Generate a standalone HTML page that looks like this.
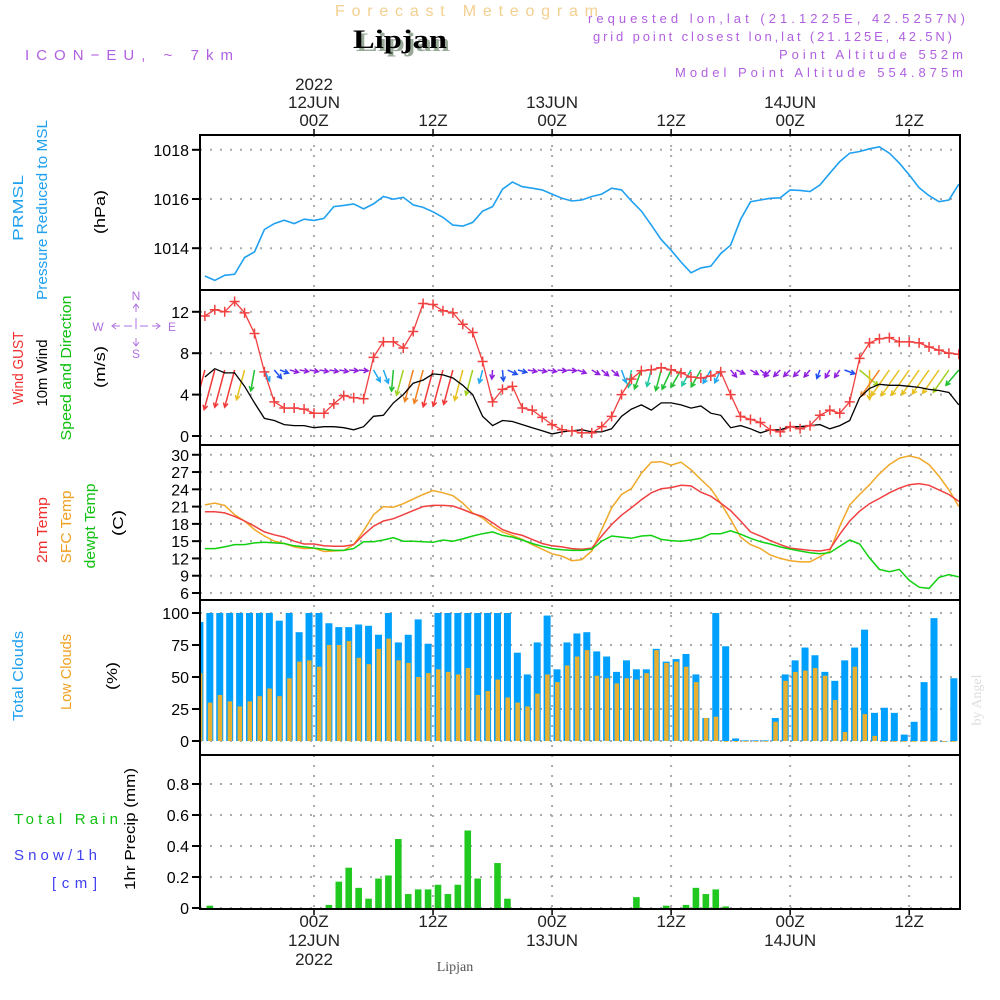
<!DOCTYPE html>
<html><head><meta charset="utf-8"><style>
body{margin:0;background:#fff}
svg{display:block}
text{font-family:"Liberation Sans",sans-serif}
text.serif{font-family:"Liberation Serif",serif}
</style></head><body>
<svg id="c" width="1000" height="1000" viewBox="0 0 1000 1000">
<g>
<text x="335" y="16" font-size="16" fill="#f3cf8f" textLength="263">Forecast Meteogram</text>
<text class="serif" x="356" y="51" font-size="26" font-weight="bold" fill="#9a9" textLength="94" lengthAdjust="spacingAndGlyphs">Lipjan</text>
<text class="serif" x="353" y="48" font-size="26" font-weight="bold" fill="#000" textLength="94" lengthAdjust="spacingAndGlyphs">Lipjan</text>
<text x="25" y="60" font-size="15" fill="#b060e0" textLength="208">ICON−EU, ~ 7km</text>
<text x="588" y="23" font-size="13" fill="#b060e0" textLength="377">requested lon,lat (21.1225E, 42.5257N)</text>
<text x="593" y="41" font-size="13" fill="#b060e0" textLength="359">grid point closest lon,lat (21.125E, 42.5N)</text>
<text x="779" y="59" font-size="13" fill="#b060e0" textLength="184">Point Altitude 552m</text>
<text x="675" y="77" font-size="13" fill="#b060e0" textLength="288">Model Point Altitude 554.875m</text>
</g>
<g font-size="15">
<text transform="translate(23,208) rotate(-90)" text-anchor="middle" fill="#1fa0f0" textLength="66" lengthAdjust="spacingAndGlyphs">PRMSL</text>
<text transform="translate(47,210) rotate(-90)" text-anchor="middle" fill="#1fa0f0" textLength="180" lengthAdjust="spacingAndGlyphs">Pressure Reduced to MSL</text>
<text transform="translate(105,212) rotate(-90)" text-anchor="middle" fill="#000" textLength="44" lengthAdjust="spacingAndGlyphs">(hPa)</text>
<text transform="translate(23,368) rotate(-90)" text-anchor="middle" fill="#f03030" textLength="73" lengthAdjust="spacingAndGlyphs">Wind GUST</text>
<text transform="translate(47,373) rotate(-90)" text-anchor="middle" fill="#000" textLength="67" lengthAdjust="spacingAndGlyphs">10m Wind</text>
<text transform="translate(71,368) rotate(-90)" text-anchor="middle" fill="#10c010" textLength="145" lengthAdjust="spacingAndGlyphs">Speed and Direction</text>
<text transform="translate(105,367) rotate(-90)" text-anchor="middle" fill="#000" textLength="42" lengthAdjust="spacingAndGlyphs">(m/s)</text>
<text transform="translate(47,530) rotate(-90)" text-anchor="middle" fill="#f03030" textLength="66" lengthAdjust="spacingAndGlyphs">2m Temp</text>
<text transform="translate(71,527) rotate(-90)" text-anchor="middle" fill="#f0a020" textLength="73" lengthAdjust="spacingAndGlyphs">SFC Temp</text>
<text transform="translate(95,526) rotate(-90)" text-anchor="middle" fill="#10c010" textLength="85" lengthAdjust="spacingAndGlyphs">dewpt Temp</text>
<text transform="translate(123,523) rotate(-90)" text-anchor="middle" fill="#000" textLength="26" lengthAdjust="spacingAndGlyphs">(C)</text>
<text transform="translate(23,676) rotate(-90)" text-anchor="middle" fill="#1fa0f0" textLength="90" lengthAdjust="spacingAndGlyphs">Total Clouds</text>
<text transform="translate(71,672) rotate(-90)" text-anchor="middle" fill="#f0a020" textLength="76" lengthAdjust="spacingAndGlyphs">Low Clouds</text>
<text transform="translate(117,676) rotate(-90)" text-anchor="middle" fill="#000" textLength="28" lengthAdjust="spacingAndGlyphs">(%)</text>
<text x="14" y="824" fill="#10c010" textLength="104">Total  Rain</text>
<text x="14" y="860" fill="#4040f0" textLength="83">Snow/1h</text>
<text x="52" y="888" fill="#4040f0" textLength="45">[cm]</text>
<text transform="translate(135,829) rotate(-90)" text-anchor="middle" fill="#000" textLength="122" lengthAdjust="spacingAndGlyphs">1hr Precip (mm)</text>
<g>
<g fill="#b070e0" font-size="12" text-anchor="middle">
<text x="136" y="300">N</text><text x="136" y="358">S</text>
<text x="98" y="331">W</text><text x="172" y="331">E</text>
</g>
<path d="M136,304v8M133,308l3,-4l3,4M136,318v8M136,338v8M133,342l3,4l3,-4M112,326h8M116,323l-4,3l4,3M124,326h8M140,326h8M152,326h8M156,323l4,3l-4,3M136,323v6" fill="none" stroke="#b070e0" stroke-width="1"/>
</g>
</g>
<text class="serif" transform="translate(981,700) rotate(-90)" text-anchor="middle" font-size="14" fill="#ddd">by Angel</text>
<text class="serif" x="455" y="971" text-anchor="middle" font-size="14" fill="#555">Lipjan</text>
<g id="grid"></g>
<g id="marks"></g>
<g id="axes"></g>
</svg>
<script>
// ---- data (hourly) ----
const barStartHour = -11.5;   // first bar hour rel. 00Z 12JUN
const lineStartHour = -11;
const pressure = [1012.87,1012.69,1012.9,1012.94,1013.62,1013.85,1014.76,1015.0,1015.14,1015.0,1015.18,1015.13,1015.21,1015.69,1015.74,1015.8,1015.6,1015.8,1016.1,1015.99,1016.07,1015.76,1015.66,1015.48,1015.25,1014.94,1014.9,1015.05,1015.51,1015.69,1016.4,1016.69,1016.5,1016.44,1016.37,1016.2,1016.03,1015.92,1015.96,
1016.1,1016.2,1016.44,1016.37,1015.92,1015.51,1014.94,1014.35,1013.92,1013.44,1013.0,1013.2,1013.27,1013.78,1014.12,1015.17,1015.89,1015.96,1016.03,1016.05,1016.37,1016.35,1016.3,1016.57,1017.05,1017.52,1017.86,1017.93,1018.04,1018.12,1017.86,1017.46,1016.98,1016.46,1016.14,1015.89,1015.96,1016.6];
const windGust = [11.6,12.2,12.0,13.0,11.9,9.9,6.2,3.3,2.7,2.7,2.6,2.2,2.2,3.1,3.9,3.7,3.6,7.6,9.1,9.1,8.5,10.1,12.8,12.7,12.1,11.9,10.8,10.0,7.2,3.3,4.5,4.8,2.7,2.5,1.8,1.1,0.6,0.5,0.3,
0.3,0.9,1.9,4.0,5.5,6.3,6.4,6.6,6.4,6.1,5.7,5.6,5.8,6.2,4.0,1.9,1.6,1.3,0.6,0.4,0.9,0.7,1.0,2.0,2.5,2.2,3.3,7.5,9.0,9.4,9.5,9.1,9.1,9.0,8.6,8.3,8.0,7.9];
const windSpeed = [5.7,6.5,6.1,6.1,4.8,3.2,1.7,1.5,1.1,1.0,1.0,0.8,0.9,0.9,0.8,0.6,0.9,1.9,2.0,3.2,4.0,5.1,5.4,6.0,5.9,5.6,4.9,4.0,1.9,1.0,1.5,1.4,1.1,0.8,0.5,0.2,0.4,0.5,0.6,
0.4,0.4,0.7,1.9,2.6,3.0,2.5,3.2,3.2,3.0,2.7,2.9,2.2,2.0,0.8,1.0,0.7,0.3,0.6,0.6,0.9,0.9,1.0,1.1,0.7,1.0,1.5,3.7,4.6,5.0,4.9,4.9,4.8,4.7,4.5,4.4,4.2,3.0];
const windDir = [15,15,15,15,15,10,335,320,290,285,280,280,280,280,280,275,275,330,340,5,15,15,15,15,15,15,15,15,15,5,355,295,285,280,280,280,275,275,290,
300,310,310,340,10,20,15,15,25,30,30,30,30,25,320,295,300,310,40,45,45,45,40,20,30,35,290,310,0,35,35,35,35,35,35,35,35,40];
const temp2m = [20.1,20.1,19.9,19.3,18.5,17.6,16.6,16.1,15.7,15.0,14.5,14.5,14.2,14.1,14.1,14.4,16.1,17.6,18.5,18.9,19.6,20.3,21.0,21.2,21.2,21.1,20.5,19.8,19.3,18.2,17.0,16.4,16.0,15.3,14.6,14.2,14.0,13.7,13.6,
13.8,15.9,17.9,19.5,20.8,22.2,23.4,24.1,24.3,24.7,24.6,23.5,22.8,21.6,20.3,18.5,16.6,15.9,15.1,14.4,13.8,13.6,13.4,13.3,13.6,16.2,18.5,20.2,21.5,22.4,23.4,24.2,24.8,25.0,24.7,23.9,23.1,21.9];
const tempSfc = [21.3,21.6,21.2,19.6,18.5,17.0,15.9,15.0,14.6,14.0,13.7,13.8,13.2,13.3,13.4,14.4,16.8,19.6,21.0,20.9,21.5,22.3,23.1,23.8,23.4,22.9,21.6,19.9,19.0,17.6,16.6,16.0,15.3,14.4,13.6,12.8,12.4,11.6,11.8,
13.3,17.0,20.8,23.1,24.1,26.8,28.7,28.8,28.2,28.7,27.4,25.7,24.1,21.6,18.8,15.7,14.4,13.7,12.6,12.0,11.6,11.4,11.4,12.3,13.3,17.6,21.3,23.1,24.8,26.7,28.3,29.4,29.8,29.4,28.3,26.3,23.9,21.0];
const dewpt = [13.7,13.7,14.0,14.4,14.4,14.7,14.8,14.7,14.6,14.2,14.0,13.8,13.6,13.4,13.4,13.7,14.9,14.9,15.2,15.6,15.0,15.0,14.9,14.8,15.2,15.0,15.4,15.9,16.3,16.6,16.0,15.7,15.2,14.6,14.1,13.7,13.5,13.4,13.4,
13.6,15.0,15.9,15.7,15.5,15.9,16.0,15.3,15.1,15.0,15.2,15.5,16.3,16.3,16.8,16.2,15.5,14.9,14.5,14.0,13.6,13.3,13.0,12.8,13.0,14.1,15.2,14.5,12.1,10.1,9.7,10.1,8.2,7.0,6.8,8.7,9.2,8.8];
const totalClouds = [93,100,100,100,100,100,100,100,94,100,85,100,100,92,89,89,91,90,83,100,77,83,95,76,100,100,100,100,100,100,100,100,69,52,77,98,56,77,84,
85,70,66,54,63,56,56,72,62,64,68,52,18,100,74,2,0.5,0.5,0.5,18,52,63,73,67,54,47,63,73,87,22,26,22,5,15,46,96,0,49];
const lowClouds = [53,30,36,31,27,31,35,41,35,49,62,63,58,75,75,78,65,60,72,80,63,61,50,53,56,54,52,57,36,39,48,34,30,27,37,52,46,59,66,
71,51,49,45,49,48,53,71,61,62,58,46,18,19,0,0,0,0,0,15,47,54,55,57,51,32,7,58,21,4,0,0,0,0,0,0,0,0];
const precip = [0,0.015,0,0,0,0,0,0,0,0,0,0,0,0.02,0.17,0.26,0.13,0.06,0.19,0.21,0.445,0.09,0.12,0.12,0.15,0.09,0.15,0.50,0.19,0,0.29,0.06,0,0,0,0,0,0,0,
0,0,0,0,0,0.07,0,0,0.015,0,0.02,0.13,0.09,0.12,0.01,0,0,0,0,0,0,0,0,0,0,0,0,0,0,0,0,0,0,0,0,0,0,0];
const pressureTicks = [1014,1016,1018];
const windTicks = [0,4,8,12];
const tempTicks = [6,9,12,15,18,21,24,27,30];
const cloudTicks = [0,25,50,75,100];
const precipTicks = [0,0.2,0.4,0.6,0.8];
const precipTickLabels = ["0","0.2","0.4","0.6","0.8"];
const timeTicks = [0,12,24,36,48,60];
const topTimeLabels = [["2022","12JUN","00Z"],["","","12Z"],["","13JUN","00Z"],["","","12Z"],["","14JUN","00Z"],["","","12Z"]];
const bottomTimeLabels = [["00Z","12JUN","2022"],["12Z","",""],["00Z","13JUN",""],["12Z","",""],["00Z","14JUN",""],["12Z","",""]];

// ---- axes ----
const X0=200,X1=960;
const x = t => 314 + t*9.92;
const panels = {
 p:{top:135,bot:290,y:v=>199-(v-1016)*24.6},
 w:{top:290,bot:445,y:v=>436-v*10.35},
 t:{top:445,bot:600,y:v=>593-(v-6)*5.76},
 c:{top:600,bot:755,y:v=>741-v*1.28},
 r:{top:755,bot:909,y:v=>908-v*155}
};
const NS="http://www.w3.org/2000/svg";
function mk(tag,attrs,parent){const e=document.createElementNS(NS,tag);for(const k in attrs)e.setAttribute(k,attrs[k]);parent.appendChild(e);return e;}
const grid=document.getElementById('grid'),marks=document.getElementById('marks'),axes=document.getElementById('axes');

function hgrid(P,ticks,labels,name){
 ticks.forEach((v,i)=>{
  const yy=P.y(v);
  const g=mk('line',{x1:X0,x2:X1,y1:yy,y2:yy,stroke:'#aaa','stroke-dasharray':'2,8','stroke-width':2},grid);
  
  
  const tk=mk('line',{x1:X0-8,x2:X0,y1:yy,y2:yy,stroke:'#000','stroke-width':2},axes);
  
  
  const tx=mk('text',{x:X0-11,y:yy+6,'text-anchor':'end','font-size':16,fill:'#000'},axes);
  tx.textContent=labels?labels[i]:String(v);
  
  
 });
}
hgrid(panels.p,pressureTicks,null,'pressure');
hgrid(panels.w,windTicks,null,'wind');
hgrid(panels.t,tempTicks,null,'temp');
hgrid(panels.c,cloudTicks,null,'cloud');
hgrid(panels.r,precipTicks,precipTickLabels,'precip');
timeTicks.forEach(t=>{
 const g=mk('line',{x1:x(t),x2:x(t),y1:135,y2:909,stroke:'#aaa','stroke-dasharray':'2,8','stroke-width':2},grid);
 
 
 [135,909].forEach(yy=>{
  const tk=mk('line',{x1:x(t),x2:x(t),y1:yy===135?129:909,y2:yy===135?135:915,stroke:'#000','stroke-width':1.5},axes);
  
  
 });
});
timeTicks.forEach((t,i)=>{
 [[topTimeLabels[i],[90,108,126]],[bottomTimeLabels[i],[927,946,965]]].forEach(([labs,ys])=>{
  labs.forEach((s,j)=>{ if(!s) return;
   const tx=mk('text',{x:x(t),y:ys[j],'text-anchor':'middle','font-size':17,fill:'#222'},axes);
   tx.textContent=s;
   
   
  });
 });
});
Object.keys(panels).forEach(k=>{
 const P=panels[k];
 const r=mk('rect',{x:X0,y:P.top,width:X1-X0,height:P.bot-P.top,fill:'none',stroke:'#000','stroke-width':2},axes);
 
 
});

const lx = i => x(lineStartHour+i);
const bx = i => x(barStartHour+i);
function clipG(P,name){const g=mk('g',{},marks);
 const cid='clip'+name;
 const cp=mk('clipPath',{id:cid},g); mk('rect',{x:X0,y:P.top,width:X1-X0,height:P.bot-P.top},cp);
 g.setAttribute('clip-path','url(#'+cid+')');
 
 
 return g;}
function line(P,arr,color,name,g,w){
 const d=arr.map((v,i)=>(i?'L':'M')+lx(i).toFixed(1)+','+P.y(v).toFixed(1)).join('');
 const p=mk('path',{d:d,fill:'none',stroke:color,'stroke-width':w||1.6},g);
 
 
}
// pressure
const gp=clipG(panels.p,'pressure');
line(panels.p,pressure,'#1fa0f0','pressure-line',gp);
// wind
const gw=clipG(panels.w,'wind');
function spdColor(s){ if(s>=5.6) return '#f03a3a'; if(s>=5) return '#f08020'; if(s>=4.4) return '#e8c020'; if(s>=3.5) return '#a0d020'; if(s>=2.9) return '#20c030'; if(s>=2.3) return '#20c8a0'; if(s>=1.6) return '#20a8f0'; if(s>=1.1) return '#2050f0'; return '#9020e0';}
windDir.forEach((dir,i)=>{
 const s=windSpeed[i], L=Math.max(9,6*s+2), r=dir*Math.PI/180;
 const dx=-Math.sin(r), dy=Math.cos(r);
 const x0=lx(i)-(dy<0.5?L*dx/2:0), y0=370;
 const x1=x0+dx*L, y1=y0+dy*L;
 const c=spdColor(s);
 const a=Math.atan2(dy,dx), h=5;
 const d='M'+x0+','+y0+'L'+x1+','+y1+'M'+(x1-h*Math.cos(a-0.5))+','+(y1-h*Math.sin(a-0.5))+'L'+x1+','+y1+'L'+(x1-h*Math.cos(a+0.5))+','+(y1-h*Math.sin(a+0.5));
 const p=mk('path',{d:d,fill:'none',stroke:c,'stroke-width':1.5},gw);
 
 
});
line(panels.w,windSpeed,'#000','wind-speed-line',gw,1.3);
line(panels.w,windGust,'#f04040','wind-gust-line',gw,1.3);
windGust.forEach((v,i)=>{
 const cx=lx(i),cy=panels.w.y(v);
 const p=mk('path',{d:'M'+(cx-5)+','+cy+'h10M'+cx+','+(cy-5)+'v10',stroke:'#f04040','stroke-width':1.5},gw);
 
 
});
// temps
const gt=clipG(panels.t,'temp');
line(panels.t,tempSfc,'#f0a828','sfc-temp-line',gt,1.5);
line(panels.t,temp2m,'#f04040','2m-temp-line',gt,1.5);
line(panels.t,dewpt,'#10d010','dewpt-line',gt,1.5);
// clouds
const gc=clipG(panels.c,'cloud');
totalClouds.forEach((v,i)=>{
 const y0=panels.c.y(v),b=panels.c.y(0);
 const r=mk('rect',{x:bx(i)-3.5,y:y0,width:7,height:Math.max(b-y0,0.8),fill:'#00a0ff'},gc);
 
 
});
lowClouds.forEach((v,i)=>{
 const y0=panels.c.y(v),b=panels.c.y(0);
 const r=mk('rect',{x:bx(i)-2,y:y0,width:4.5,height:Math.max(b-y0,0.8),fill:'#e8b030'},gc);
 
 
});
// precip
const gr=clipG(panels.r,'precip');
precip.forEach((v,i)=>{
 const y0=panels.r.y(v),b=panels.r.y(0);
 const r=mk('rect',{x:bx(i)-3.3,y:y0,width:6.6,height:Math.max(b-y0,0.8),fill:'#20c820'},gr);
 
 
});
</script>
</body></html>
